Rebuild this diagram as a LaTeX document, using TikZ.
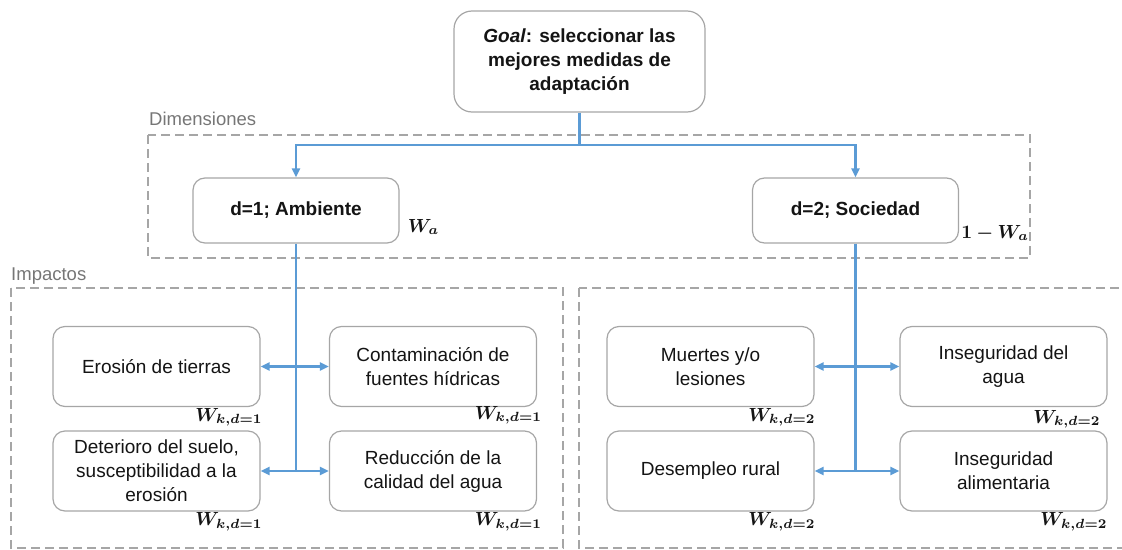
\documentclass[tikz,border=0pt]{standalone}
\usepackage{graphicx}
\usepackage{amsmath}
\usepackage{bm}
\usepackage{fontspec}
\setmainfont{Liberation Sans}
\usetikzlibrary{arrows.meta}

\definecolor{linkblue}{RGB}{91,155,213}
\definecolor{framegray}{RGB}{166,166,166}
\definecolor{labelgray}{RGB}{118,118,118}
\definecolor{inkblack}{RGB}{20,20,20}

% weights in bold math, set at 10pt and enlarged
\newcommand{\wlabel}[1]{\scalebox{1.9}{$\bm{#1}$}}

\tikzset{
  box/.style={draw=framegray, line width=1.2pt, rounded corners=12pt, fill=white,
    inner sep=0pt, align=center, text=inkblack, font=\fontsize{19}{24}\selectfont},
  impact/.style={box, minimum width=207pt, minimum height=80pt},
  dimbox/.style={box, minimum width=206pt, minimum height=65pt,
    font=\bfseries\fontsize{19}{24}\selectfont},
  goalbox/.style={box, rounded corners=18pt, minimum width=251pt, minimum height=101pt,
    font=\bfseries\fontsize{19}{24}\selectfont},
  group/.style={draw=framegray, line width=1.3pt, dash pattern=on 9pt off 5pt},
  grouplabel/.style={text=labelgray, font=\fontsize{18.5}{22}\selectfont,
    anchor=base west, inner sep=0pt},
  link/.style={draw=linkblue, line width=2.2pt},
  tip/.style={link, -{Triangle[length=9pt,width=8pt]}},
  weight/.style={anchor=base east, inner sep=0pt, text=inkblack,
    font=\fontsize{10}{12}\selectfont},
}

\begin{document}
\begin{tikzpicture}[x=1pt,y=-1pt]
\useasboundingbox (0,0) rectangle (1122,549);

% dashed groups and their titles
\draw[group] (148,135) rectangle (1030,258);
\node[grouplabel] (dimlabel) at (149,125) {Dimensiones};
\draw[group] (11,288) rectangle (563,548);
\node[grouplabel] (implabel) at (11,280) {Impactos};
\begin{scope}
  \clip (0,0) rectangle (1122,549);
  \draw[group] (579,288) rectangle (1135,548);
\end{scope}

% goal and dimensions
\node[goalbox] (goal) at (579.5,61.5) {\textit{Goal}: seleccionar las\\mejores medidas de\\adaptación};
\node[dimbox] (amb) at (296,210.5) {d=1; Ambiente};
\node[dimbox] (soc) at (855.5,210.5) {d=2; Sociedad};

% impacts
\node[impact] (ero) at (156.5,366.5) {Erosión de tierras};
\node[impact] (con) at (433,366.5) {Contaminación de\\fuentes hídricas};
\node[impact] (det) at (156.5,471) {Deterioro del suelo,\\susceptibilidad a la\\erosión};
\node[impact] (red) at (433,471) {Reducción de la\\calidad del agua};
\node[impact] (mue) at (710.5,366.5) {Muertes y/o\\lesiones};
\node[impact] (iag) at (1003.5,366.5) {Inseguridad del\\agua};
\node[impact] (des) at (710.5,471) {Desempleo rural};
\node[impact] (ial) at (1003.5,471) {Inseguridad\\alimentaria};

% connectors from the goal
\coordinate (bus) at (579.5,145);
\draw[link] (goal.south) -- (goal.south |- bus);
\draw[tip] (goal.south |- bus) -| (amb.north);
\draw[tip] (goal.south |- bus) -| (soc.north);

% environment branch
\draw[link] (amb.south) -- (amb.south |- det.east);
\draw[tip] (amb.south |- ero.east) -- (ero.east);
\draw[tip] (amb.south |- con.west) -- (con.west);
\draw[tip] (amb.south |- det.east) -- (det.east);
\draw[tip] (amb.south |- red.west) -- (red.west);

% society branch
\draw[link] (soc.south) -- (soc.south |- des.east);
\draw[tip] (soc.south |- mue.east) -- (mue.east);
\draw[tip] (soc.south |- iag.west) -- (iag.west);
\draw[tip] (soc.south |- des.east) -- (des.east);
\draw[tip] (soc.south |- ial.west) -- (ial.west);

% weights
\node[weight, anchor=base west] (wa) at ([xshift=8pt,yshift=-21.5pt]amb.east) {\wlabel{W_a}};
\node[weight, anchor=base west] (wb) at ([xshift=2pt,yshift=-27.5pt]soc.east) {\wlabel{1-W_a}};
\node[weight] (wero) at ([xshift=2pt,yshift=-14pt]ero.south east) {\wlabel{W_{k,d=1}}};
\node[weight] (wcon) at ([xshift=5pt,yshift=-12pt]con.south east) {\wlabel{W_{k,d=1}}};
\node[weight] (wdet) at ([xshift=2pt,yshift=-14pt]det.south east) {\wlabel{W_{k,d=1}}};
\node[weight] (wred) at ([xshift=5pt,yshift=-14pt]red.south east) {\wlabel{W_{k,d=1}}};
\node[weight] (wmue) at ([xshift=1pt,yshift=-14pt]mue.south east) {\wlabel{W_{k,d=2}}};
\node[weight] (wiag) at ([xshift=-7pt,yshift=-16pt]iag.south east) {\wlabel{W_{k,d=2}}};
\node[weight] (wdes) at ([xshift=1pt,yshift=-14pt]des.south east) {\wlabel{W_{k,d=2}}};
\node[weight] (wial) at ([xshift=0pt,yshift=-14pt]ial.south east) {\wlabel{W_{k,d=2}}};
\end{tikzpicture}
\end{document}
